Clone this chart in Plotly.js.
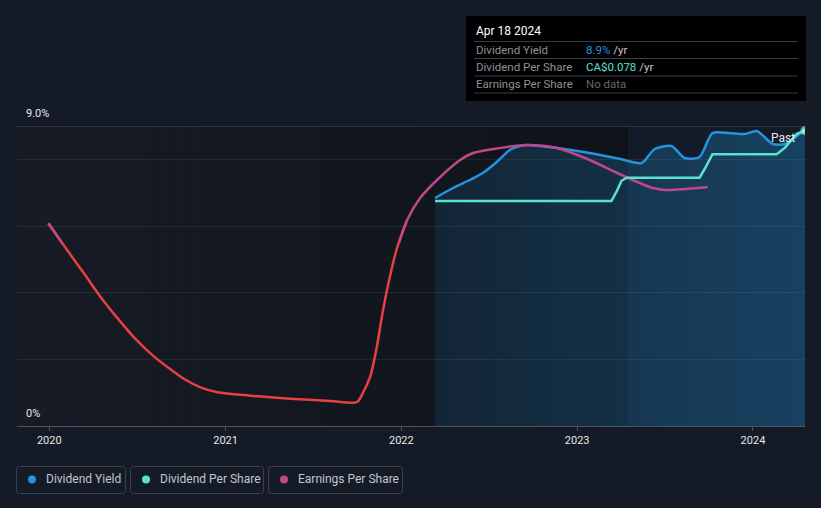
<!DOCTYPE html>
<html><head><meta charset="utf-8">
<script src="https://cdn.plot.ly/plotly-3.0.1.min.js"></script>
<style>html,body{margin:0;padding:0;background:#151b26;}#chart{width:821px;height:508px;}</style>
</head><body><div id="chart"></div>
<script>
// ---------- data ----------
const yearTicks = ['2020-01-01','2021-01-01','2022-01-01','2023-01-01','2024-01-01'];
const yearLabels = ['2020','2021','2022','2023','2024'];

const epsDates = ['2019-12-30','2020-02-07','2020-03-13','2020-04-16','2020-05-22','2020-06-25','2020-07-29','2020-09-03','2020-10-07','2020-11-10','2020-12-15','2021-02-21','2021-05-15','2021-08-06','2021-10-01','2021-10-13','2021-10-28','2021-11-11','2021-11-24','2021-12-08','2021-12-23','2022-01-13','2022-02-09','2022-03-16','2022-05-03','2022-05-30','2022-08-08','2022-09-19','2022-11-20','2023-01-27','2023-03-25','2023-05-11','2023-06-07','2023-07-06','2023-09-29'];
const epsValues = [6.08,5.28,4.58,3.88,3.23,2.66,2.18,1.76,1.41,1.16,1.01,0.91,0.82,0.75,0.72,0.99,1.47,2.37,3.48,4.47,5.34,6.18,6.84,7.38,7.98,8.19,8.37,8.43,8.34,7.98,7.59,7.29,7.14,7.08,7.17];

const yieldDates = ['2022-03-12','2022-04-18','2022-05-23','2022-06-19','2022-07-18','2022-08-14','2022-09-04','2022-09-19','2022-11-20','2023-01-27','2023-03-31','2023-05-15','2023-06-11','2023-07-16','2023-08-12','2023-09-12','2023-10-09','2023-11-13','2023-12-15','2024-01-09','2024-02-11','2024-03-07','2024-04-18'];
const yieldValues = [6.84,7.14,7.38,7.59,7.92,8.28,8.40,8.43,8.34,8.19,8.01,7.89,8.31,8.40,8.04,8.07,8.79,8.79,8.76,8.85,8.46,8.46,8.90];

const dpsDates = ['2022-03-12','2023-03-13','2023-03-24','2023-04-03','2023-04-14','2023-09-12','2023-09-24','2023-10-09','2024-02-19','2024-03-07','2024-04-01','2024-04-18'];
const dpsValues = [0.060,0.060,0.0625,0.0652,0.066,0.066,0.0685,0.072,0.072,0.0736,0.0772,0.078];

const seriesNames = ['Dividend Yield','Dividend Per Share','Earnings Per Share'];
const seriesColors = ['#2394df','#5be1cf','#c2468c'];
const lowColor = '#e8403f';
const epsThreshold = 5.5;
const tooltipDate = 'Apr 18 2024';
const tooltipValues = ['8.9%','CA$0.078','No data'];
const pastStart = '2023-04-18', pastEnd = '2024-04-18';

// ---------- helpers ----------
const L=17, R=805, T=126, B=426;
const P = x => (x-L)/(R-L);
const Q = y => (B-y)/(B-T);
const FONT = 'Roboto, "Open Sans", sans-serif';

function toStr(t){return new Date(t).toISOString().slice(0,19).replace('T',' ');}
// magenta part: points above threshold plus crossing points
function highPart(dates, vals, thr){
  const out={x:[],y:[]};
  for(let i=0;i<vals.length;i++){
    const above = vals[i]>=thr;
    if(i>0){
      const pa = vals[i-1]>=thr;
      if(pa!==above){
        const t0=Date.parse(dates[i-1]), t1=Date.parse(dates[i]);
        const f=(thr-vals[i-1])/(vals[i]-vals[i-1]);
        const tc=toStr(t0+f*(t1-t0));
        if(above && out.x.length){out.x.push(null);out.y.push(null);}
        out.x.push(tc); out.y.push(thr);
      }
    }
    if(above){out.x.push(dates[i]); out.y.push(vals[i]);}
  }
  return out;
}
// red part: points below threshold and their direct neighbours
function lowPart(dates, vals, thr){
  const out={x:[],y:[]}; let last=-2;
  for(let i=0;i<vals.length;i++){
    const keep = vals[i]<thr || (i>0 && vals[i-1]<thr) || (i<vals.length-1 && vals[i+1]<thr);
    if(keep){
      if(last>=0 && last!==i-1){out.x.push(null);out.y.push(null);}
      out.x.push(dates[i]); out.y.push(vals[i]); last=i;
    }
  }
  return out;
}
const epsHi = highPart(epsDates, epsValues, epsThreshold);
const epsLo = lowPart(epsDates, epsValues, epsThreshold);

function hex(c){return [parseInt(c.slice(1,3),16),parseInt(c.slice(3,5),16),parseInt(c.slice(5,7),16)];}
function mix(a,b,t){const A=hex(a),B2=hex(b);return 'rgb('+A.map((v,i)=>Math.round(v+(B2[i]-v)*t)).join(',')+')';}

const shapes = [];
const gx0 = L, gx1 = 628, N = 40;
for(let i=0;i<N;i++){
  shapes.push({type:'rect', xref:'paper', yref:'paper', x0:P(gx0+(gx1-gx0)*i/N), x1:P(gx0+(gx1-gx0)*(i+1)/N)+0.001, y0:0, y1:1,
    fillcolor: mix('#161b25','#0f1319', i/(N-1)), line:{width:0}, layer:'below'});
}
shapes.push({type:'rect', xref:'x', yref:'paper', x0:pastStart, x1:pastEnd, y0:0, y1:1, fillcolor:'#121b27', line:{width:0}, layer:'below'});
shapes.push({type:'line', xref:'x', yref:'paper', x0:pastStart, x1:pastStart, y0:0, y1:1, line:{color:'rgba(255,255,255,0.04)', width:1}, layer:'below'});
shapes.push({type:'line', xref:'paper', yref:'y', x0:0, x1:1, y0:9, y1:9, line:{color:'#4a4f58', width:1}, layer:'below'});

shapes.push({type:'rect', xref:'paper', yref:'paper', x0:P(466), x1:P(806), y0:Q(16), y1:Q(101), fillcolor:'#000000', line:{width:0}});
[41.5,58.5,76,93].forEach(y=>shapes.push({type:'line', xref:'paper', yref:'paper', x0:P(474), x1:P(798), y0:Q(y), y1:Q(y), line:{color:'#3a3d42', width:1}}));

function rr(x0,y0,x1,y1,r){
  const X=P, Y=Q;
  return `M${X(x0+r)},${Y(y0)} L${X(x1-r)},${Y(y0)} Q${X(x1)},${Y(y0)} ${X(x1)},${Y(y0+r)} L${X(x1)},${Y(y1-r)} Q${X(x1)},${Y(y1)} ${X(x1-r)},${Y(y1)} L${X(x0+r)},${Y(y1)} Q${X(x0)},${Y(y1)} ${X(x0)},${Y(y1-r)} L${X(x0)},${Y(y0+r)} Q${X(x0)},${Y(y0)} ${X(x0+r)},${Y(y0)} Z`;
}
const legBoxes = [[16.5,125.5],[130.5,263.5],[268.5,402.5]];
const legDot = [32,146,284];
const legText = [44,158,296];
legBoxes.forEach((b,i)=>{
  shapes.push({type:'path', xref:'paper', yref:'paper', path: rr(b[0],466.5,b[1],493.5,3), line:{color:'#3b414b', width:1}, fillcolor:'rgba(0,0,0,0)'});
  shapes.push({type:'circle', xref:'paper', yref:'paper', x0:P(legDot[i]-4), x1:P(legDot[i]+4), y0:Q(479.5-4), y1:Q(479.5+4), fillcolor:seriesColors[i], line:{width:0}});
});

const annotations = [];
function txt(x,y,text,color,size,anchor){
  annotations.push({xref:'paper', yref:'paper', x:P(x), y:Q(y), text:text, showarrow:false, xanchor:anchor||'left', yanchor:'middle', font:{family:FONT, size:size||11, color:color}});
}
legBoxes.forEach((b,i)=>txt(legText[i],479.5,seriesNames[i],'#c3c6cb',12));
txt(474,31,tooltipDate,'#ffffff',12);
txt(474,49.5,seriesNames[0],'#8d9197',11.5);
txt(474,66.5,seriesNames[1],'#8d9197',11.5);
txt(474,84,seriesNames[2],'#8d9197',11.5);
txt(584,49.5,`<span style="color:${seriesColors[0]}">${tooltipValues[0]}</span> /yr`,'#c8c8c8',11.5);
txt(584,66.5,`<span style="color:${seriesColors[1]}">${tooltipValues[1]}</span> /yr`,'#c8c8c8',11.5);
txt(584,84,tooltipValues[2],'#63676d',11.5);
txt(24,114,'9.0%','#e6e6e6',11);
txt(24,413,'0%','#e6e6e6',11);
txt(797,138,'Past','#e8e8e8',12,'right');

const lw = 2.5;
const traces = [
  {x:yieldDates, y:yieldValues, type:'scatter', mode:'lines', name:seriesNames[0], fill:'tozeroy',
   fillgradient:{type:'horizontal', colorscale:[[0,'rgba(35,148,223,0.13)'],[1,'rgba(35,148,223,0.32)']]},
   line:{color:seriesColors[0], width:lw, shape:'spline', smoothing:0.7}},
  {x:dpsDates, y:dpsValues, type:'scatter', mode:'lines+markers', yaxis:'y2', name:seriesNames[1],
   line:{color:seriesColors[1], width:lw, shape:'linear'},
   marker:{size:dpsValues.map((v,i)=>i===dpsValues.length-1?8:0), color:'#bff3ec', line:{color:seriesColors[1], width:1.5}}},
  {x:epsLo.x, y:epsLo.y, type:'scatter', mode:'lines', name:'low', line:{color:lowColor, width:lw, shape:'spline', smoothing:0.8}},
  {x:epsHi.x, y:epsHi.y, type:'scatter', mode:'lines', name:seriesNames[2], line:{color:seriesColors[2], width:lw, shape:'spline', smoothing:0.8}}
];

const layout = {
  width:821, height:508,
  margin:{l:L, r:821-R, t:T, b:508-B, pad:0},
  paper_bgcolor:'#151b26', plot_bgcolor:'rgba(0,0,0,0)',
  showlegend:false, hovermode:false,
  font:{family:FONT, color:'#e6e6e6'},
  xaxis:{type:'date', range:['2019-10-26','2024-04-18'], tickvals:yearTicks, ticktext:yearLabels,
    showgrid:false, zeroline:false, showline:true, linecolor:'#4f545c', linewidth:1,
    ticks:'outside', ticklen:4, tickcolor:'#4f545c', tickfont:{family:FONT, size:11, color:'#e6e6e6'}},
  yaxis:{range:[0,9], tickvals:[0,2,4,6,8], showticklabels:false, gridcolor:'rgba(255,255,255,0.08)', gridwidth:1, zeroline:false, fixedrange:true},
  yaxis2:{range:[0.0025,0.0792], overlaying:'y', visible:false, showgrid:false},
  shapes:shapes, annotations:annotations
};
Plotly.newPlot('chart', traces, layout, {staticPlot:true, displayModeBar:false});
</script></body></html>
